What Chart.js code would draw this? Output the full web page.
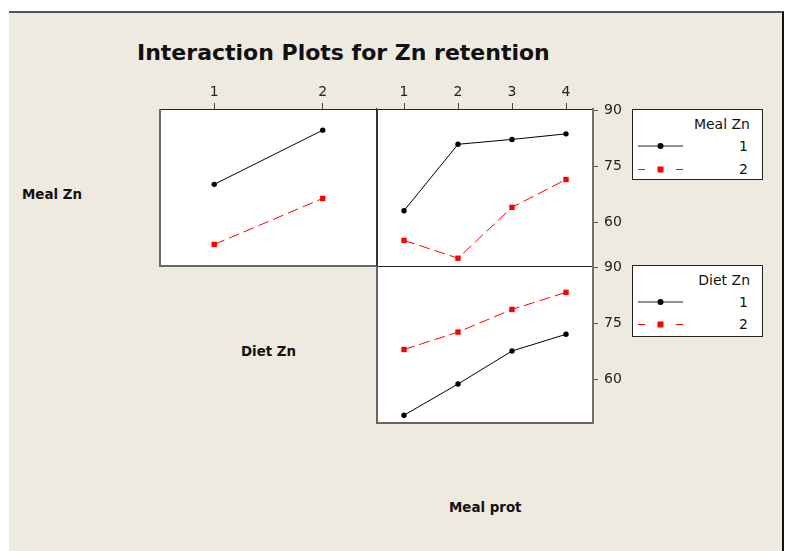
<!DOCTYPE html>
<html><head><meta charset="utf-8">
<script src="https://cdn.jsdelivr.net/npm/chart.js@4.4.1/dist/chart.umd.min.js"></script>
<style>
html,body{margin:0;padding:0;background:#fff;width:787px;height:551px;overflow:hidden;font-family:"DejaVu Sans",sans-serif;}
#bg{position:absolute;left:9px;top:11px;width:773px;height:540px;background:#EEEAE0;border-top:2px solid #555;border-right:2px solid #111;}
.lbl{position:absolute;white-space:nowrap;color:#111;}
canvas{position:absolute;}
.leg{position:absolute;background:#fff;border:1px solid #222;box-sizing:border-box;z-index:5;}
.leg div{position:absolute;white-space:nowrap;font-size:14px;line-height:20px;color:#111;}
.leg svg{position:absolute;}
</style></head><body>
<div id="bg"></div>
<div class="lbl" style="left:137px;top:40px;font-size:22px;font-weight:bold;line-height:26px;">Interaction Plots for Zn retention</div>
<div class="lbl" style="left:22px;top:185px;font-size:13.4px;font-weight:bold;line-height:20px;">Meal Zn</div>
<div class="lbl" style="left:241px;top:342px;font-size:13.4px;font-weight:bold;line-height:20px;">Diet Zn</div>
<div class="lbl" style="left:449px;top:498px;font-size:13.4px;font-weight:bold;line-height:20px;">Meal prot</div>
<script>
// ---- data ----
const dietZnLevels = [1, 2];
const mealProtLevels = [1, 2, 3, 4];
const dietZnTickLabels = ['1', '2'];
const mealProtTickLabels = ['1', '2', '3', '4'];
const yTickValues = [60, 75, 90];
const yTickLabels = ['60', '75', '90'];
const legendLevels = ['1', '2'];

// Meal Zn (lines) vs Diet Zn (x)
const mealZn1_byDietZn = [70.2, 84.8];
const mealZn2_byDietZn = [54.0, 66.4];
// Meal Zn (lines) vs Meal prot (x)
const mealZn1_byMealProt = [63.1, 81.0, 82.3, 83.8];
const mealZn2_byMealProt = [55.1, 50.3, 64.0, 71.5];
// Diet Zn (lines) vs Meal prot (x)
const dietZn1_byMealProt = [50.3, 58.7, 67.6, 72.1];
const dietZn2_byMealProt = [68.0, 72.7, 78.8, 83.4];

const Y_MIN = 48.2, Y_MAX = 90.5;

Chart.defaults.font.family = '"DejaVu Sans", sans-serif';
Chart.defaults.font.size = 14;
Chart.defaults.color = '#222';
Chart.defaults.animation = false;

const boxPlugin = {
  id: 'box',
  beforeDraw(chart) {
    const a = chart.chartArea, c = chart.ctx;
    c.save(); c.fillStyle = '#fff';
    c.fillRect(a.left, a.top, a.right - a.left, a.bottom - a.top);
    c.restore();
  },
  afterDraw(chart, args, opts) {
    const a = chart.chartArea, c = chart.ctx, s = opts.sides;
    c.save();
    function ln(x1, y1, x2, y2, st) {
      c.beginPath(); c.strokeStyle = st[0]; c.lineWidth = st[1];
      c.moveTo(x1, y1); c.lineTo(x2, y2); c.stroke();
    }
    const off = w => (w % 2 === 1 ? 0.5 : 0);
    ln(a.left - 1, a.top + off(s.top[1]), a.right + 1, a.top + off(s.top[1]), s.top);
    ln(a.left - 1, a.bottom + off(s.bottom[1]), a.right + 1, a.bottom + off(s.bottom[1]), s.bottom);
    ln(a.left + off(s.left[1]), a.top, a.left + off(s.left[1]), a.bottom + 1, s.left);
    ln(a.right - off(s.right[1]), a.top - 1, a.right - off(s.right[1]), a.bottom + 1, s.right);
    c.restore();
  }
};

function ds(xs, ys, black) {
  return {
    data: xs.map((x, i) => ({ x: x, y: ys[i] })),
    borderColor: black ? '#000' : '#f00',
    backgroundColor: black ? '#000' : '#f00',
    borderWidth: 1,
    borderDash: black ? [] : [11, 5],
    pointStyle: black ? 'circle' : 'rect',
    pointRadius: black ? 2.7 : 3.8,
    pointBorderWidth: 0,
    pointHoverRadius: black ? 2.7 : 3.8,
    tension: 0, fill: false
  };
}

function xScale(levels, labels, max, show) {
  return {
    type: 'linear', position: 'top', display: show, min: 0.5, max: max,
    afterBuildTicks: s => { s.ticks = levels.map(v => ({ value: v })); },
    afterFit: s => { s.height = 39; },
    grid: { drawOnChartArea: false, drawTicks: true, tickLength: 6, color: '#444' },
    border: { display: false },
    ticks: { padding: 2, autoSkip: false, maxRotation: 0, callback: (v, i) => labels[i] }
  };
}
function yScale(show) {
  return {
    type: 'linear', position: 'right', display: show, min: Y_MIN, max: Y_MAX,
    afterBuildTicks: s => { s.ticks = yTickValues.map(v => ({ value: v })); },
    afterFit: s => { s.width = 40; },
    grid: { drawOnChartArea: false, drawTicks: true, tickLength: 5, color: '#555' },
    border: { display: false },
    ticks: { padding: 6, autoSkip: false, callback: (v, i) => yTickLabels[i] }
  };
}

function makeChart(left, top, w, h, datasets, scales, padding, sides) {
  const cv = document.createElement('canvas');
  cv.width = w; cv.height = h;
  cv.style.left = left + 'px'; cv.style.top = top + 'px';
  cv.style.width = w + 'px'; cv.style.height = h + 'px';
  document.body.appendChild(cv);
  return new Chart(cv, {
    type: 'line',
    data: { datasets: datasets },
    options: {
      responsive: false, devicePixelRatio: 1,
      layout: { padding: padding },
      plugins: { legend: { display: false }, tooltip: { enabled: false }, box: { sides: sides } },
      scales: scales
    },
    plugins: [boxPlugin]
  });
}

const dark = ['#222', 1], grey2 = ['#666', 2], axisGrey = ['#707070', 2];

// Panel A: Meal Zn by Diet Zn  (chart area 160..377 x 109..266)
makeChart(155, 70, 227, 201,
  [ds(dietZnLevels, mealZn1_byDietZn, true), ds(dietZnLevels, mealZn2_byDietZn, false)],
  { x: xScale(dietZnLevels, dietZnTickLabels, 2.5, true), y: { type: 'linear', display: false, min: Y_MIN, max: Y_MAX } },
  { left: 5, right: 5, bottom: 5, top: 0 },
  { top: dark, bottom: grey2, left: grey2, right: ['#333', 1] });

// Panel B: Meal Zn by Meal prot (chart area 377..593 x 109..266)
makeChart(372, 70, 261, 212,
  [ds(mealProtLevels, mealZn1_byMealProt, true), ds(mealProtLevels, mealZn2_byMealProt, false)],
  { x: xScale(mealProtLevels, mealProtTickLabels, 4.5, true), y: yScale(true) },
  { left: 5, right: 0, bottom: 16, top: 0 },
  { top: dark, bottom: dark, left: ['#333', 1], right: axisGrey });

// Panel C: Diet Zn by Meal prot (chart area 377..593 x 266..423)
makeChart(372, 250, 261, 189,
  [ds(mealProtLevels, dietZn1_byMealProt, true), ds(mealProtLevels, dietZn2_byMealProt, false)],
  { x: { type: 'linear', display: false, min: 0.5, max: 4.5 }, y: yScale(true) },
  { left: 5, right: 0, bottom: 16, top: 16 },
  { top: dark, bottom: grey2, left: grey2, right: axisGrey });

// Legends
function legend(left, top, w, h, title, rows) {
  const d = document.createElement('div');
  d.className = 'leg';
  d.style.left = left + 'px'; d.style.top = top + 'px';
  d.style.width = w + 'px'; d.style.height = h + 'px';
  let html = '<div style="right:12px;top:' + rows[0] + 'px;">' + title + '</div>';
  legendLevels.forEach((lv, i) => {
    const cy = rows[i + 1];
    const black = i === 0;
    const svg = black
      ? '<svg width="50" height="12" style="left:5px;top:' + (cy + 4) + 'px"><line x1="0" y1="6" x2="45" y2="6" stroke="#222" stroke-width="1"/><circle cx="22.5" cy="6" r="3" fill="#000"/></svg>'
      : '<svg width="50" height="12" style="left:5px;top:' + (cy + 4) + 'px"><line x1="0" y1="6.5" x2="7" y2="6.5" stroke="#f00" stroke-width="1"/><line x1="38" y1="6.5" x2="45" y2="6.5" stroke="#f00" stroke-width="1"/><rect x="19.5" y="3.5" width="6" height="6" fill="#f00"/></svg>';
    html += svg + '<div style="right:14px;top:' + cy + 'px;">' + lv + '</div>';
  });
  d.innerHTML = html;
  document.body.appendChild(d);
}
legend(632, 109, 131, 71, 'Meal Zn', [4, 26, 49]);
legend(632, 265, 131, 72, 'Diet Zn', [4, 26, 48]);
</script>
</body></html>
